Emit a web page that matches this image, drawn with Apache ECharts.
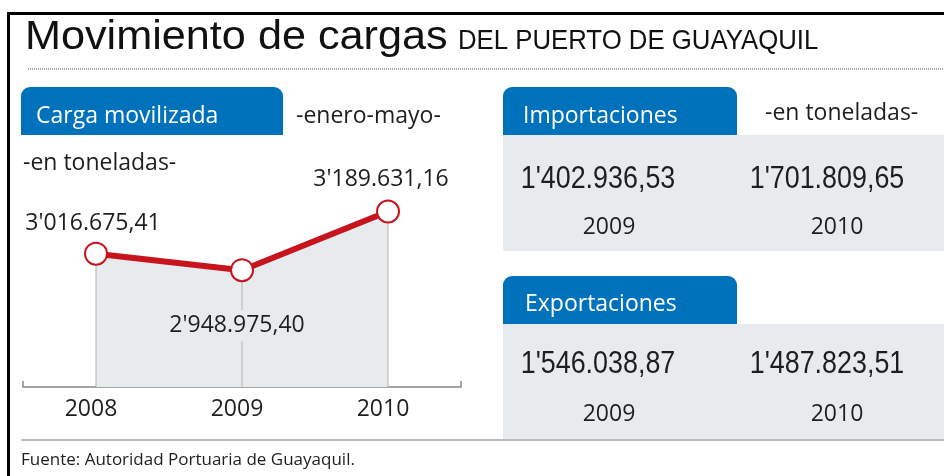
<!DOCTYPE html>
<html>
<head>
<meta charset="utf-8">
<script src="https://cdn.jsdelivr.net/npm/echarts@6/dist/echarts.min.js"></script>
<style>
html,body{margin:0;padding:0;background:#fff;}
#main{width:944px;height:476px;}
</style>
</head>
<body>
<div id="main"></div>
<script>
// carga movilizada enero-mayo (toneladas)
var years = ['2008', '2009', '2010'];
var carga = [3016675.41, 2948975.40, 3189631.16];
// importaciones / exportaciones
var panelYears = ['2009', '2010'];
var importaciones = [1402936.53, 1701809.65];
var exportaciones = [1546038.87, 1487823.51];

var blue = '#0071bb';
var panelGray = '#e8ebee';
var red = '#c8151d';
var ink = '#1e1e1e';
var body = '"Open Sans", sans-serif';
var sans = '"Liberation Sans", Arial, sans-serif';

// 3016675.41 -> 3'016.675,41
function fmt(v) {
	var s = v.toFixed(2).split('.');
	var n = s[0], out = '', cnt = 0, seps = 0;
	for (var i = n.length - 1; i >= 0; i--) {
		out = n[i] + out;
		cnt++;
		if (cnt % 3 == 0 && i > 0) {
			out = (seps == 0 ? '.' : "'") + out;
			seps++;
		}
	}
	return out + ',' + s[1];
}

function txt(x, y, text, size, font, color, align, sx) {
	return {
		type: 'text', x: x, y: y, scaleX: sx || 1, silent: true,
		style: {
			text: text, fontSize: size, fontFamily: font || body,
			fill: color || ink, align: align || 'left', verticalAlign: 'middle'
		}
	};
}
function tab(x, y, w, h) {
	return { type: 'rect', shape: { x: x, y: y, width: w, height: h, r: [9, 9, 0, 0] }, style: { fill: blue }, silent: true };
}
function box(x, y, w, h) {
	return { type: 'rect', shape: { x: x, y: y, width: w, height: h }, style: { fill: panelGray }, silent: true };
}
function line(x1, y1, x2, y2, color, width, dash) {
	return {
		type: 'line', shape: { x1: x1, y1: y1, x2: x2, y2: y2 }, silent: true,
		style: { stroke: color, lineWidth: width, lineDash: dash || null }
	};
}

var graphics = [
	line(8, 13.5, 944, 13.5, '#000', 3),
	line(8.5, 12, 8.5, 476, '#000', 3),
	txt(25, 38, 'Movimiento de cargas', 40, sans, '#111', 'left', 1.08),
	txt(458, 41, 'DEL PUERTO DE GUAYAQUIL', 28, sans, '#111', 'left', 0.92),
	line(28, 69, 944, 69, '#aaa', 2, [1, 1]),
	tab(21, 87, 262, 48),
	txt(36, 116, 'Carga movilizada', 23, body, '#fff'),
	txt(296, 116, '-enero-mayo-', 23),
	txt(23, 163, '-en toneladas-', 23),
	line(21, 440, 944, 440, '#bbb', 2),
	txt(21, 460, 'Fuente: Autoridad Portuaria de Guayaquil.', 17),
	// importaciones
	tab(503, 87, 234, 48),
	box(503, 135, 441, 116),
	txt(523, 116, 'Importaciones', 23, body, '#fff'),
	txt(765, 113, '-en toneladas-', 23),
	// exportaciones
	tab(503, 276, 234, 48),
	box(503, 324, 441, 115),
	txt(525, 304, 'Exportaciones', 23, body, '#fff')
];
var colX = [598, 827], yearX = [609, 837];
for (var i = 0; i < panelYears.length; i++) {
	graphics.push(txt(colX[i], 179, fmt(importaciones[i]), 32, sans, ink, 'center', 0.84));
	graphics.push(txt(yearX[i], 227, panelYears[i], 23, body, ink, 'center'));
	graphics.push(txt(colX[i], 364, fmt(exportaciones[i]), 32, sans, ink, 'center', 0.84));
	graphics.push(txt(yearX[i], 414, panelYears[i], 23, body, ink, 'center'));
}

var labelPos = [
	{ position: 'top', offset: [-3, -2] },
	{ position: 'bottom', offset: [-5, 23], backgroundColor: panelGray, padding: [4, 2] },
	{ position: 'top', offset: [-7, -4] }
];
var lineData = carga.map(function (v, i) {
	return { value: v, label: labelPos[i] };
});

var myChart = echarts.init(document.getElementById('main'));
var option = {
	animation: false,
	backgroundColor: '#fff',
	grid: { left: 23, right: 483, top: 187, bottom: 89 },
	xAxis: {
		type: 'category',
		data: years,
		boundaryGap: true,
		axisLine: { lineStyle: { color: '#888', width: 1.5 } },
		axisTick: { show: true, inside: true, length: 6, interval: 0, lineStyle: { color: '#888', width: 1.5 } },
		axisLabel: { fontSize: 23, fontFamily: body, color: ink, margin: 11, padding: [0, 10, 0, 0] }
	},
	yAxis: { type: 'value', min: 2470000, max: 3290000, show: false },
	graphic: graphics,
	series: [{
		// relleno gris bajo la linea
		type: 'line',
		data: carga,
		symbol: 'none',
		lineStyle: { width: 0 },
		areaStyle: { color: panelGray, opacity: 1 },
		z: 1,
		silent: true
	}, {
		// lineas verticales hasta el eje
		type: 'bar',
		data: carga,
		barWidth: 1,
		itemStyle: { color: '#b4b4b4' },
		z: 2,
		silent: true
	}, {
		type: 'line',
		data: lineData,
		symbol: 'circle',
		symbolSize: 22,
		clip: false,
		lineStyle: { color: red, width: 6 },
		itemStyle: { color: '#fff', borderColor: red, borderWidth: 2 },
		label: {
			show: true, fontSize: 23, fontFamily: body, color: ink,
			formatter: function (p) { return fmt(p.value); }
		},
		z: 3
	}]
};
myChart.setOption(option);
</script>
</body>
</html>
